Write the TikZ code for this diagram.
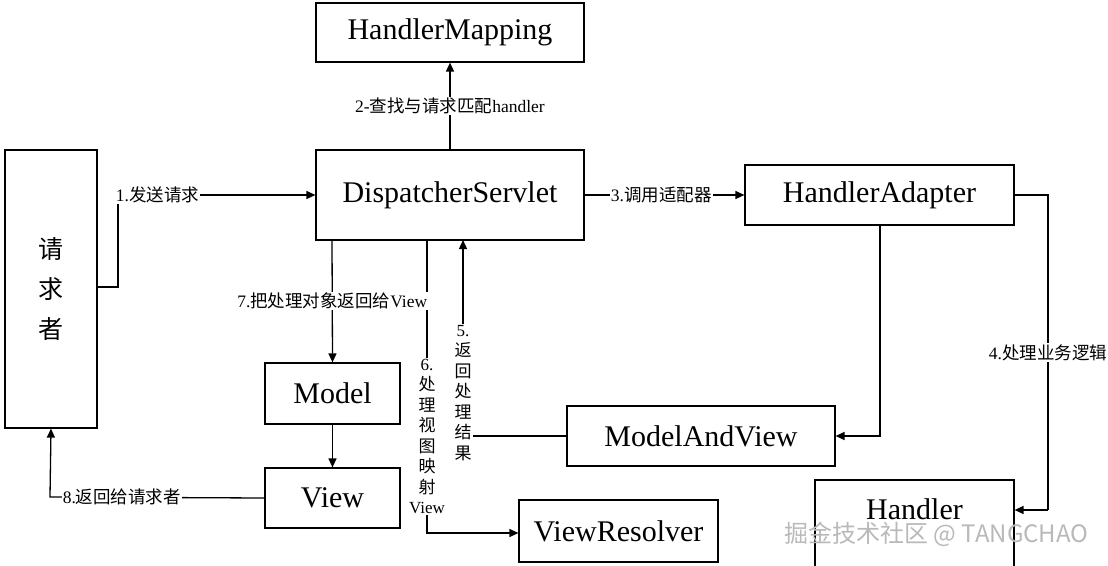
\documentclass[tikz,border=0pt]{standalone}
\usepackage{fontspec}
\setmainfont{Liberation Serif}
\newfontfamily\cjk{Noto Sans CJK SC}
\newcommand{\zh}[1]{{\cjk #1}}
\usetikzlibrary{arrows.meta}
\begin{document}
\begin{tikzpicture}[x=1pt,y=-1pt,
 box/.style={draw,line width=1.2pt,fill=white,font=\fontsize{30}{33}\selectfont,inner sep=0pt},
 lab/.style={fill=white,font=\fontsize{17.5}{21}\selectfont,inner sep=1pt},
 vlab/.style={fill=white,font=\fontsize{17}{20.5}\selectfont,inner sep=1pt,align=center},
 con/.style={line width=1.3pt},
 arr/.style={con,-{Triangle[length=9pt,width=8pt]}}]
\useasboundingbox (0,0) rectangle (1108,565);
\node[box,minimum width=268pt,minimum height=59pt] (hm) at (450,32.5) {HandlerMapping};
\node[box,minimum width=268pt,minimum height=90pt] (ds) at (450,195) {DispatcherServlet};
\node[box,minimum width=92pt,minimum height=278pt,align=center,font=\cjk\fontsize{25}{40}\selectfont] (req) at (51,289) {请\\求\\者};
\node[box,minimum width=269pt,minimum height=60pt] (ha) at (879.5,195) {HandlerAdapter};
\node[box,minimum width=135pt,minimum height=61pt] (model) at (332.5,393.5) {Model};
\node[box,minimum width=135pt,minimum height=60pt] (view) at (332.5,498) {View};
\node[box,minimum width=268pt,minimum height=60pt] (mav) at (701,436) {ModelAndView};
\node[box,minimum width=199pt,minimum height=90pt] (handler) at (914.5,525) {};
\node[font=\fontsize{30}{33}\selectfont] at (914.5,509) {Handler};
\node[box,minimum width=199pt,minimum height=62pt] (vr) at (618.5,531) {ViewResolver};

\coordinate (c1) at (118,287);
\draw[con] (req.east |- c1) -- (c1) -- (118,195);
\draw[arr] (118,195) -- node[lab,pos=0.2]{1.\zh{发送请求}} (ds.west);
\draw[arr] (ds.north) -- node[lab]{2-\zh{查找与请求匹配}handler} (hm.south);
\draw[arr] (ds.east) -- node[lab,pos=0.48]{3.\zh{调用适配器}} (ha.west);
\coordinate (c4) at (1048,195);
\draw[con] (ha.east) -- (c4) -- node[lab]{4.\zh{处理业务逻辑}} (1048,510);
\draw[arr] (1048,510) -- (handler.east |- 0,510);
\draw[arr] (880,225) -- (880,436) -- (mav.east);
\draw[arr] (mav.west) -- (463,436) -- node[vlab,pos=0.22]{5.\\\zh{返}\\\zh{回}\\\zh{处}\\\zh{理}\\\zh{结}\\\zh{果}} (463,240);
\draw[arr] (427,240) -- node[vlab,pos=0.67]{6.\\\zh{处}\\\zh{理}\\\zh{视}\\\zh{图}\\\zh{映}\\\zh{射}\\View} (427,533) -- (vr.west |- 0,533);
\draw[arr] (332,240) -- node[lab,pos=0.5]{7.\zh{把处理对象返回给}View} (model.north);
\draw[arr] (model.south) -- (view.north);
\draw[arr] (view.west) -- node[lab,pos=0.665]{8.\zh{返回给请求者}} (50,497) -- (req.south);
\node[font=\cjk\fontsize{24}{26}\selectfont,text=gray!55,anchor=east] at (1092,534) {掘金技术社区 @ TANGCHAO};
\end{tikzpicture}
\end{document}
